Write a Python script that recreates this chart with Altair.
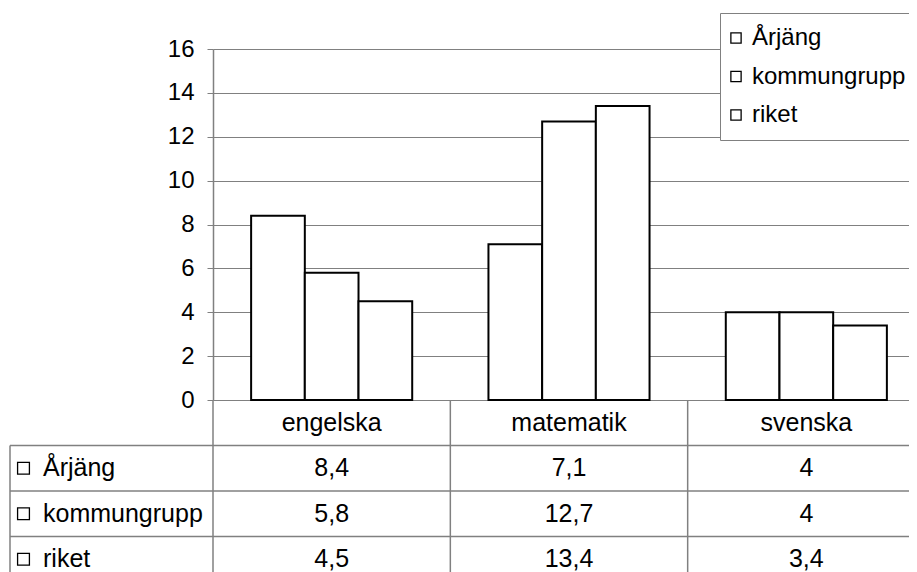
import altair as alt
import pandas as pd

categories = ["engelska", "matematik", "svenska"]
series = ["Årjäng", "kommungrupp", "riket"]
arjang = [8.4, 7.1, 4]
kommungrupp = [5.8, 12.7, 4]
riket = [4.5, 13.4, 3.4]
y_ticks = [0, 2, 4, 6, 8, 10, 12, 14, 16]

values = {"Årjäng": arjang, "kommungrupp": kommungrupp, "riket": riket}
rows = []
for s in series:
    for c, v in zip(categories, values[s]):
        rows.append({"cat": c, "series": s, "value": v,
                     "label": f"{v:g}".replace(".", ",")})
df = pd.DataFrame(rows)

FONT = "Liberation Sans"
FS = 25
W_VIEW = 696      # visible part of the plot (page is cut at the right edge)
W_FULL = 712      # full band range
H = 351
ROW = 45.5
TH = ROW * 4
GRAY = "#808080"

x_scale = alt.Scale(domain=categories, range=[0, W_FULL], paddingInner=0, paddingOuter=0)

bars = alt.Chart(df).mark_bar(stroke="black", strokeWidth=2).encode(
    x=alt.X("cat:N", scale=x_scale,
            axis=alt.Axis(labels=False, ticks=False, title=None,
                          domainColor="black", domainWidth=2, grid=False)),
    xOffset=alt.XOffset("series:N", sort=series,
                        scale=alt.Scale(domain=series, paddingOuter=0.71, paddingInner=0)),
    y=alt.Y("value:Q", scale=alt.Scale(domain=[0, 16]),
            axis=alt.Axis(values=y_ticks, title=None, grid=True, gridColor=GRAY,
                          gridWidth=1, tickColor=GRAY, tickSize=6, tickWidth=1,
                          domainColor=GRAY, domainWidth=1.5, labelPadding=13,
                          labelFontSize=24, labelFont=FONT, labelColor="black")),
    color=alt.Color("series:N",
                    scale=alt.Scale(domain=series, range=["white", "white", "white"]),
                    legend=alt.Legend(title=None, orient="none", legendX=507, legendY=-36,
                                      direction="vertical",
                                      fillColor="white", strokeColor=GRAY, padding=13,
                                      rowPadding=14.5, symbolType="square", symbolSize=105,
                                      symbolStrokeColor="black", symbolStrokeWidth=1.3,
                                      symbolFillColor="white", symbolOffset=-9,
                                      labelFontSize=24,
                                      labelFont=FONT, labelColor="black",
                                      labelOffset=4, labelLimit=400)),
)

hdr = pd.DataFrame({"cat": categories, "row": ["hdr"] * 3, "label": categories})
cells = df[["cat", "series", "label"]].rename(columns={"series": "row"})
tbl = pd.concat([hdr, cells], ignore_index=True)
row_dom = ["hdr"] + series
y_scale = alt.Scale(domain=row_dom, range=[H, H + TH], paddingInner=0, paddingOuter=0)

text = alt.Chart(tbl).mark_text(font=FONT, fontSize=FS, color="black").encode(
    x=alt.X("cat:N", scale=x_scale, axis=None),
    y=alt.Y("row:N", scale=y_scale, axis=None),
    text="label:N",
)

row_labels = alt.Chart(pd.DataFrame({"row": series})).mark_text(
    font=FONT, fontSize=FS, color="black", align="left"
).encode(
    y=alt.Y("row:N", scale=y_scale, axis=None),
    x=alt.value(-170),
    text="row:N",
)

squares = alt.Chart(pd.DataFrame({"row": series})).mark_point(
    shape="square", filled=False, stroke="black", strokeWidth=1.3, size=140, opacity=1
).encode(
    y=alt.Y("row:N", scale=y_scale, axis=None),
    x=alt.value(-189.5),
)

hrules = alt.Chart(pd.DataFrame({"row": series})).mark_rule(color=GRAY, strokeWidth=1.5).encode(
    y=alt.Y("row:N", scale=y_scale, bandPosition=0, axis=None),
    x=alt.value(-203), x2=alt.value(W_FULL),
)

vrules = alt.Chart(pd.DataFrame({"cat": categories})).mark_rule(color=GRAY, strokeWidth=1.5).encode(
    x=alt.X("cat:N", scale=x_scale, bandPosition=0, axis=None),
    y=alt.value(H), y2=alt.value(H + TH),
)

left_border = alt.Chart(pd.DataFrame({"a": [0]})).mark_rule(color=GRAY, strokeWidth=1.5).encode(
    x=alt.value(-203), y=alt.value(H + ROW), y2=alt.value(H + TH),
)

table = alt.layer(vrules, hrules, left_border, squares, row_labels, text)

chart = alt.layer(table, bars).resolve_scale(y="independent").properties(
    width=W_VIEW, height=H,
    autosize=alt.AutoSizeParams(type="none"),
    padding={"left": 205, "top": 41, "right": 0, "bottom": 190},
).configure_view(strokeWidth=0).configure(font=FONT)

chart.save("out.html", embed_options={"renderer": "svg", "actions": False})
